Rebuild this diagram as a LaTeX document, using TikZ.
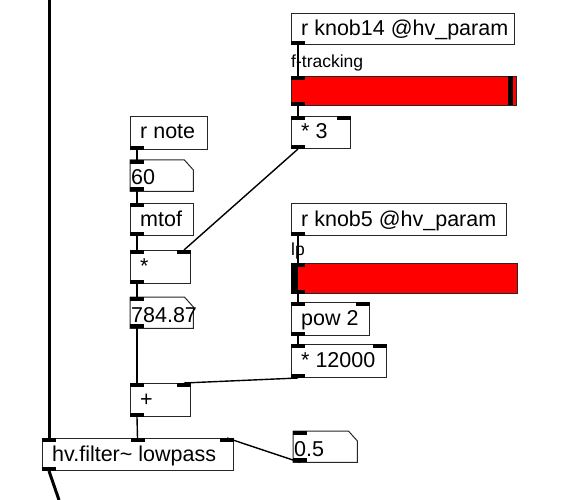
\documentclass[tikz,border=0pt]{standalone}
\usepackage{fontspec}
\setmainfont{Liberation Sans}
\usetikzlibrary{calc}
\tikzset{
  pdbox/.style={draw=black!85, line width=1pt, fill=white, inner sep=0pt, anchor=north west},
  pdnumbox/.style={draw=none, fill=white, inner sep=0pt, anchor=north west},
  pdtext/.style={font=\fontsize{21.5}{24}\selectfont, inner sep=0pt, anchor=base west},
  pdlabel/.style={font=\fontsize{17.5}{20}\selectfont, inner sep=0pt, anchor=base west},
  pdslider/.style={draw=black!85, line width=1pt, fill=red, inner sep=0pt, anchor=north west},
  ctl/.style={line width=1.4pt, black},
  sig/.style={line width=3pt, black},
  outline/.style={draw=black!85, line width=1pt},
}
\newcommand\pdobj[6]{%
  \node[pdbox, minimum width=#4pt, minimum height=#5pt] (#1) at (#2,#3) {};
  \node[pdtext] (#1-t) at ($(#1.north west)+(10,23)$) {#6};}
\newcommand\pdnum[6]{%
  \node[pdnumbox, minimum width=#4pt, minimum height=#5pt] (#1) at (#2,#3) {};
  \draw[outline] (#1.north west) -- ($(#1.north east)+(-9,0)$) -- ($(#1.north east)+(0,10)$)
     -- (#1.south east) -- (#1.south west) -- cycle;
  \node[pdtext] (#1-t) at ($(#1.north west)+(1,25)$) {#6};}
\newcommand\pdin[1]{\fill ($(#1.north west)$) rectangle ++(14,4);}
\newcommand\pdinr[1]{\fill ($(#1.north east)$) rectangle ++(-14,4);}
\newcommand\pdout[1]{\fill ($(#1.south west)$) rectangle ++(14,-4);}
\begin{document}
\begin{tikzpicture}[x=1pt,y=-1pt]
\useasboundingbox (0,0) rectangle (571,500);
\fill[white] (0,0) rectangle (571,500);

% objects
\pdobj{knobA}{291}{13}{223}{31}{r knob14 @hv\_param}
\node[pdlabel] (labA) at (291,68) {f-tracking};
\node[pdslider, minimum width=225pt, minimum height=29pt] (slA) at (291,76) {};
\fill (508,76) rectangle (513,105);
\pdobj{mul3}{291}{116}{59}{32}{* 3}

\pdobj{note}{130}{116}{77}{33}{r note}
\pdnum{nsixty}{130}{160}{63}{31}{60}
\pdobj{mtof}{130}{203}{63}{32}{mtof}
\pdobj{mul}{130}{250}{60}{33}{*}
\pdnum{nfreq}{130}{297}{63}{31}{784.87}

\pdobj{knobB}{291}{203}{215}{32}{r knob5 @hv\_param}
\node[pdlabel] (labB) at (291,255) {lp};
\node[pdslider, minimum width=226pt, minimum height=30pt] (slB) at (291,263) {};
\fill (slB.north west) rectangle ++(7,30);
\pdobj{pow}{291}{302}{78}{33}{pow 2}
\pdobj{mulk}{291}{344}{95}{33}{* 12000}

\pdobj{plus}{130}{383}{60}{33}{+}
\pdobj{filt}{42}{438}{191}{32}{hv.filter\textasciitilde{} lowpass}
\pdnum{nq}{293}{431}{64}{31}{0.5}

% inlets / outlets
\pdout{knobA}
\pdin{slA} \pdout{slA}
\pdin{mul3} \pdinr{mul3} \pdout{mul3}
\pdout{note}
\pdin{nsixty} \pdout{nsixty}
\pdin{mtof} \pdout{mtof}
\pdin{mul} \pdinr{mul} \pdout{mul}
\pdin{nfreq} \pdout{nfreq}
\pdout{knobB}
\pdin{slB} \pdout{slB}
\pdin{pow} \pdinr{pow} \pdout{pow}
\pdin{mulk} \pdinr{mulk} \pdout{mulk}
\pdin{plus} \pdinr{plus} \pdout{plus}
\pdin{filt} \pdinr{filt} \pdout{filt}
\fill ($(filt.north west)+(88.5,0)$) rectangle ++(14,4);
\pdin{nq} \pdout{nq}

% connections
\draw[ctl] ($(knobA.south west)+(7,0)$) -- ($(slA.north west)+(7,0)$);
\draw[ctl] ($(slA.south west)+(7,0)$) -- ($(mul3.north west)+(7,0)$);
\draw[ctl] ($(mul3.south west)+(7,0)$) -- ($(mul.north east)+(-7,0)$);
\draw[ctl] ($(note.south west)+(7,0)$) -- ($(nsixty.north west)+(7,0)$);
\draw[ctl] ($(nsixty.south west)+(7,0)$) -- ($(mtof.north west)+(7,0)$);
\draw[ctl] ($(mtof.south west)+(7,0)$) -- ($(mul.north west)+(7,0)$);
\draw[ctl] ($(mul.south west)+(7,0)$) -- ($(nfreq.north west)+(7,0)$);
\draw[ctl] ($(nfreq.south west)+(7,0)$) -- ($(plus.north west)+(7,0)$);
\draw[ctl] ($(knobB.south west)+(7,0)$) -- ($(slB.north west)+(7,0)$);
\draw[ctl] ($(slB.south west)+(7,0)$) -- ($(pow.north west)+(7,0)$);
\draw[ctl] ($(pow.south west)+(7,0)$) -- ($(mulk.north west)+(7,0)$);
\draw[ctl] ($(mulk.south west)+(7,0)$) -- ($(plus.north east)+(-7,0)$);
\draw[ctl] ($(plus.south west)+(7,0)$) -- ($(filt.north west)+(95.5,0)$);
\draw[ctl] ($(filt.north east)+(-7,0)$) -- ($(nq.south west)+(7,0)$);

% signal
\coordinate (sigtop) at (49,0);
\coordinate (sigbot) at (59,500);
\draw[sig] (sigtop) -- ($(filt.north west)+(7,0)$);
\draw[sig] ($(filt.south west)+(7,0)$) -- (sigbot);
\end{tikzpicture}
\end{document}
